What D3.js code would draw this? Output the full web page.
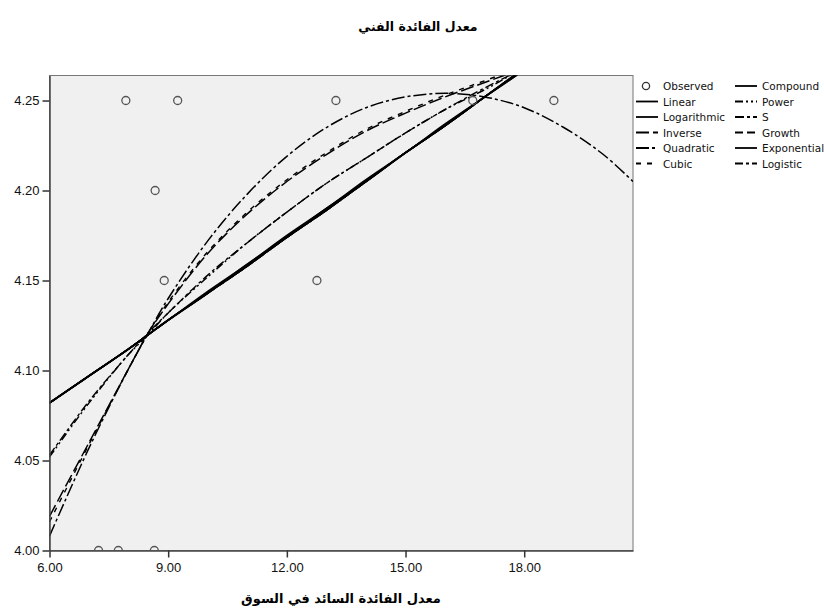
<!DOCTYPE html>
<html><head><meta charset="utf-8">
<script src="https://cdn.jsdelivr.net/npm/d3@7"></script>
<style>body{margin:0;background:#fff}</style>
</head><body><svg id="c" width="824" height="611"></svg>
<script>
// ---- data ----
const chartTitle = "معدل الفائدة الفني";
const xAxisTitle = "معدل الفائدة السائد في السوق";
const xTicks = [6, 9, 12, 15, 18];
const yTicks = [4.00, 4.05, 4.10, 4.15, 4.20, 4.25];

const obsX = [7.93, 9.24, 13.24, 16.7, 18.75, 8.67, 8.9, 12.76, 7.24, 7.74, 8.65];
const obsY = [4.25, 4.25, 4.25, 4.25, 4.25, 4.20, 4.15, 4.15, 4.00, 4.00, 4.00];

const fitX         = [6,     7,     8,     8.5,   9,     10,    11,    12,    13,    14,    15,    16,    17,    18,    19,    20,    20.75];
const linearY      = [4.082, 4.097, 4.112, 4.120, 4.128, 4.143, 4.159, 4.174, 4.190, 4.205, 4.221, 4.236, 4.252, 4.267, 4.283, 4.298, 4.310];
const logarithmicY = [4.082, 4.097, 4.112, 4.120, 4.128, 4.144, 4.159, 4.175, 4.190, 4.206, 4.221, 4.237, 4.252, 4.267, 4.282, 4.297, 4.308];
const inverseY     = [4.019, 4.060, 4.101, 4.121, 4.137, 4.165, 4.187, 4.205, 4.220, 4.233, 4.243, 4.252, 4.260, 4.268, 4.276, 4.283, 4.289];
const quadraticY   = [4.008, 4.057, 4.101, 4.121, 4.140, 4.172, 4.198, 4.219, 4.235, 4.246, 4.252, 4.254, 4.252, 4.246, 4.235, 4.220, 4.205];
const cubicY       = [4.016, 4.059, 4.101, 4.121, 4.138, 4.166, 4.188, 4.206, 4.221, 4.234, 4.244, 4.253, 4.261, 4.269, 4.277, 4.285, 4.291];
const compoundY    = [4.082, 4.097, 4.112, 4.120, 4.128, 4.143, 4.158, 4.174, 4.189, 4.205, 4.221, 4.236, 4.252, 4.268, 4.284, 4.299, 4.311];
const powerY       = [4.052, 4.082, 4.109, 4.120, 4.132, 4.152, 4.171, 4.188, 4.204, 4.218, 4.232, 4.245, 4.256, 4.268, 4.278, 4.288, 4.296];
const sY           = [4.053, 4.083, 4.109, 4.121, 4.132, 4.153, 4.171, 4.188, 4.204, 4.218, 4.232, 4.245, 4.257, 4.268, 4.279, 4.289, 4.297];
const growthY      = [4.082, 4.097, 4.112, 4.120, 4.128, 4.143, 4.158, 4.174, 4.189, 4.205, 4.221, 4.236, 4.252, 4.268, 4.284, 4.299, 4.311];
const exponentialY = [4.082, 4.097, 4.112, 4.120, 4.128, 4.143, 4.158, 4.174, 4.189, 4.205, 4.221, 4.236, 4.252, 4.268, 4.284, 4.299, 4.311];
const logisticY    = [4.082, 4.097, 4.112, 4.120, 4.128, 4.143, 4.158, 4.174, 4.189, 4.205, 4.221, 4.236, 4.252, 4.268, 4.284, 4.299, 4.311];

const seriesNames = ["Linear","Logarithmic","Inverse","Quadratic","Cubic","Compound","Power","S","Growth","Exponential","Logistic"];
const seriesValues = [linearY, logarithmicY, inverseY, quadraticY, cubicY, compoundY, powerY, sY, growthY, exponentialY, logisticY];

// ---- styles ----
const seriesStyle = {
  Linear:{dash:null,w:1.9}, Logarithmic:{dash:null,w:1.6}, Inverse:{dash:"13,4",w:1.5},
  Quadratic:{dash:"13,3,3,3",w:1.5}, Cubic:{dash:"5,6",w:1.4}, Compound:{dash:null,w:1.6},
  Power:{dash:"8,3,2,3,2,3",w:1.5}, S:{dash:"9,3,3,3",w:1.4}, Growth:{dash:"8,4",w:1.5},
  Exponential:{dash:null,w:1.6}, Logistic:{dash:"8,3,3,3",w:1.5}
};

const svg = d3.select("#c");
const P = {l:49.5, t:75.5, r:633, b:550.5};
const x = d3.scaleLinear().domain([6, 20.75]).range([P.l, P.r]);
const y = d3.scaleLinear().domain([4.00, 4.2639]).range([P.b, P.t]);

svg.append("rect").attr("x",P.l).attr("y",P.t).attr("width",P.r-P.l).attr("height",P.b-P.t)
  .attr("fill","#f0f0f0").attr("stroke","#777").attr("stroke-width",1);

svg.append("clipPath").attr("id","clip").append("rect")
  .attr("x",P.l).attr("y",P.t).attr("width",P.r-P.l).attr("height",P.b-P.t);

const g = svg.append("g").attr("clip-path","url(#clip)");

const line = d3.line().x(d=>x(d[0])).y(d=>y(d[1])).curve(d3.curveCatmullRom);
const order = seriesNames.map((n,i)=>i).sort((a,b)=> (seriesStyle[seriesNames[a]].dash?1:0)-(seriesStyle[seriesNames[b]].dash?1:0));
order.forEach(i=>{
  const st = seriesStyle[seriesNames[i]];
  g.append("path").datum(fitX.map((xv,j)=>[xv, seriesValues[i][j]]))
    .attr("d", line).attr("fill","none").attr("stroke","#000")
    .attr("stroke-width", st.w).attr("stroke-dasharray", st.dash);
});

g.selectAll("circle.obs").data(obsX.map((v,i)=>[v,obsY[i]])).enter().append("circle")
  .attr("class","obs").attr("cx",d=>x(d[0])).attr("cy",d=>y(d[1])).attr("r",4)
  .attr("fill","none").attr("stroke","#555").attr("stroke-width",1.3);

// axes
const fmt = d3.format(".2f");
const ya = svg.append("g").attr("transform",`translate(${P.l},0)`)
  .call(d3.axisLeft(y).tickValues(yTicks).tickFormat(fmt).tickSize(7).tickSizeOuter(0).tickPadding(3));
const xa = svg.append("g").attr("transform",`translate(0,${P.b})`)
  .call(d3.axisBottom(x).tickValues(xTicks).tickFormat(fmt).tickSize(7).tickSizeOuter(0).tickPadding(5));
[ya,xa].forEach(a=>{
  a.selectAll("path").attr("stroke","#444").attr("stroke-width",1.5);
  a.selectAll("line").attr("stroke","#333").attr("stroke-width",1.5);
  a.selectAll("text").attr("font-family","Liberation Sans, Arial, sans-serif").attr("font-size",13).attr("fill","#111");
});

// titles
svg.append("text").attr("x",418).attr("y",31).attr("text-anchor","middle")
  .attr("font-family","DejaVu Sans, sans-serif").attr("font-weight","bold").attr("font-size",12.5)
  .text(chartTitle);
svg.append("text").attr("x",341).attr("y",603).attr("text-anchor","middle")
  .attr("font-family","DejaVu Sans, sans-serif").attr("font-weight","bold").attr("font-size",13)
  .text(xAxisTitle);

// legend
const leg = svg.append("g").attr("font-family","DejaVu Sans, sans-serif").attr("font-size",10.5).attr("fill","#111");
const legItems = ["Observed"].concat(seriesNames);
legItems.forEach((name,i)=>{
  const col = i<6?0:1, row = i<6?i:i-6;
  const sx = col===0?636:735, tx = col===0?663:762;
  const cy = 86 + row*15.5;
  if(name==="Observed"){
    leg.append("circle").attr("cx",646).attr("cy",cy).attr("r",3.6).attr("fill","none").attr("stroke","#333").attr("stroke-width",1.3);
  } else {
    const st = seriesStyle[name];
    leg.append("line").attr("x1",sx).attr("x2",sx+22).attr("y1",cy).attr("y2",cy)
      .attr("stroke","#000").attr("stroke-width",1.8).attr("stroke-dasharray",st.dash);
  }
  leg.append("text").attr("x",tx).attr("y",cy+4).text(name);
});
</script></body></html>
